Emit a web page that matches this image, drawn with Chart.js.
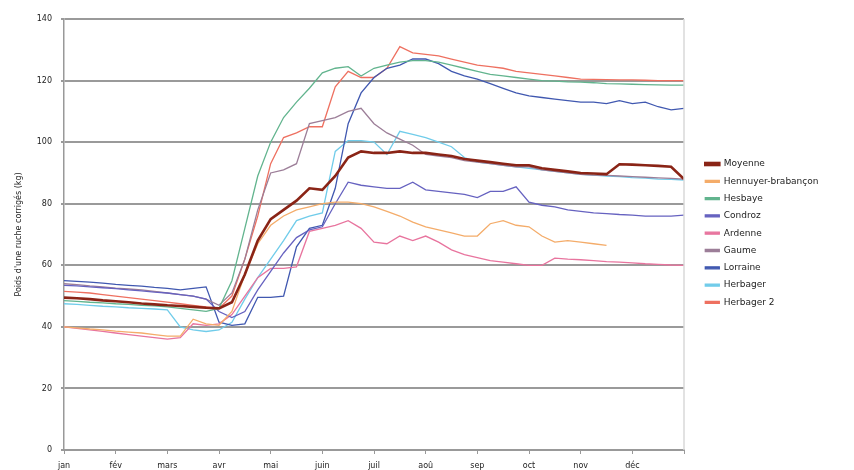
<!DOCTYPE html>
<html><head><meta charset="utf-8">
<script src="https://cdn.jsdelivr.net/npm/chart.js@4"></script>
<style>html,body{margin:0;padding:0;background:#fff;}#wrap{width:854px;height:470px;position:relative;}</style>
</head><body><div id="wrap"><canvas id="c" width="854" height="470"></canvas></div>
<script>
const monthLabels = ["jan","fév","mars","avr","mai","juin","juil","aoû","sep","oct","nov","déc",""];
const xPos = [0,0.25,0.5,0.75,1,1.25,1.5,1.75,2,2.25,2.5,2.75,3,3.25,3.5,3.75,4,4.25,4.5,4.75,5,5.25,5.5,5.75,6,6.25,6.5,6.75,7,7.25,7.5,7.75,8,8.25,8.5,8.75,9,9.25,9.5,9.75,10,10.25,10.5,10.75,11,11.25,11.5,11.75,12];
const yTicks = [0,20,40,60,80,100,120,140];
const seriesNames = ["Moyenne","Hennuyer-brabançon","Hesbaye","Condroz","Ardenne","Gaume","Lorraine","Herbager","Herbager 2"];

const moyenne = [49.5,49.3,49,48.6,48.3,48,47.6,47.3,47,46.8,46.5,46.2,46,48,57,68,75,78,81,85,84.5,89,95,97,96.5,96.5,97,96.5,96.5,96,95.5,94.5,94,93.5,93,92.5,92.5,91.5,91,90.5,90,89.8,89.6,92.8,92.7,92.5,92.3,92,88];
const hennuyer = [40,39.7,39.3,39,38.6,38.3,38,37.5,37,37,42.5,41,40.5,45,57,67,73,76,78,79,80,80.5,80.5,80,79,77.5,76,74,72.5,71.5,70.5,69.5,69.5,73.5,74.5,73,72.5,69.5,67.5,68,67.5,67,66.5,null,null,null,null,null,null];
const hesbaye = [48.5,48.3,48,47.8,47.5,47.3,47,46.8,46.5,46,45.5,45,46,55,72,89,100,108,113,117.5,122.5,124,124.5,121.5,124,125,126,126.5,126.5,126,125,124,123,122,121.5,121,120.5,120,119.8,119.6,119.5,119.3,119,118.9,118.8,118.7,118.6,118.5,118.5];
const condroz = [53.5,53.3,53,52.7,52.4,52,51.7,51.3,51,50.5,50,49,45,43,45,52,58,64,69,71.5,72.5,80,87,86,85.5,85,85,87,84.5,84,83.5,83,82,84,84,85.5,80.5,79.5,79,78,77.5,77,76.8,76.5,76.3,76,76,76,76.3];
const ardenne = [40,39.5,39,38.5,38,37.5,37,36.5,36,36.5,41,40.5,41,44,50,56,59,59,59.5,71,72,73,74.5,72,67.5,67,69.5,68,69.5,67.5,65,63.5,62.5,61.5,61,60.5,60,60,62.3,62,61.8,61.5,61.2,61,60.8,60.5,60.3,60.1,60];
const gaume = [54,53.7,53.3,53,52.6,52.3,52,51.5,51,50.5,50,49,47,51,62,78,90,91,93,106,107,108,110,111,106,103,101,99,96,95.5,95,94,93.5,93,92.5,92,92,91,90.5,90,89.5,89.3,89.2,89,88.8,88.6,88.4,88.2,88];
const lorraine = [55,54.8,54.5,54.2,53.8,53.5,53.2,52.8,52.5,52,52.5,53,41.5,40.5,41,49.6,49.6,50,66,72,73,85,106,116,121,124,125,127,127,125.5,123,121.5,120.5,119,117.5,116,115,114.5,114,113.5,113,113,112.5,113.5,112.5,113,111.5,110.5,111];
const herbager = [47.5,47.3,47,46.7,46.5,46.2,46,45.8,45.5,40,39,38.5,39,41.5,49,56,62,68,74.5,76,77,97,100.5,100.5,100,96,103.5,102.5,101.5,100,98.5,95,93.5,93,92.5,92,91.5,91,90.5,90,89.5,89.3,89,88.8,88.5,88.3,88,87.9,87.7];
const herbager2 = [51.5,51.3,51,50.5,50,49.5,49,48.5,48,47.5,47,46.5,46,50,62,76,93,101.5,103,105,105,118,123,121,121,124,131,129,128.5,128,127,126,125,124.5,124,123,122.5,122,121.5,121,120.5,120.4,120.3,120.2,120.2,120.1,120,120,120];

const seriesValues = [moyenne,hennuyer,hesbaye,condroz,ardenne,gaume,lorraine,herbager,herbager2];
const seriesColors = ["#8A2416","#F4AC6A","#62B48E","#6662C0","#E8749E","#9C7E98","#4058B0","#70CCEA","#EE7060"];
const seriesWidths = [2.6,1.3,1.3,1.3,1.3,1.3,1.3,1.3,1.3];

const datasets = seriesNames.map((name,i)=>({
  label: name,
  data: xPos.map((x,j)=>({x:x,y:seriesValues[i][j]})),
  borderColor: seriesColors[i],
  backgroundColor: seriesColors[i],
  borderWidth: seriesWidths[i],
  pointRadius: 0,
  tension: 0,
  spanGaps: false
}));

const frame = {
  id:'frame',
  afterDraw(chart){
    const a = chart.chartArea, ctx = chart.ctx;
    ctx.save();
    ctx.strokeStyle = '#d8d8d8'; ctx.lineWidth = 1.5;
    ctx.beginPath(); ctx.moveTo(a.right, a.top); ctx.lineTo(a.right, a.bottom); ctx.stroke();
    ctx.restore();
  }
};
const legendPlace = {
  id:'legendPlace',
  beforeInit(chart){
    const lg = chart.legend;
    if(!lg) return;
    const orig = lg.fit;
    lg.fit = function(){ orig.call(this); this.width = 162; };
  },
  afterLayout(chart){
    const lg = chart.legend;
    if(!lg) return;
    lg.left += 13; lg.right += 13;
  }
};

Chart.defaults.font.family = "'DejaVu Sans', Verdana, sans-serif";
Chart.defaults.color = '#222';
Chart.defaults.animation = false;

new Chart(document.getElementById('c'), {
  type:'line',
  data:{datasets:datasets},
  options:{
    responsive:false,
    animation:false,
    layout:{padding:{left:12,right:8,top:19,bottom:0}},
    plugins:{
      legend:{
        position:'right',
        align:'start',
        title:{display:true,text:'',padding:{top:131,bottom:0},font:{size:1}},
        labels:{boxWidth:14,boxHeight:2,padding:8.3,font:{size:9},color:'#222'}
      },
      tooltip:{enabled:false}
    },
    scales:{
      x:{
        type:'linear', min:0, max:12,
        afterBuildTicks(scale){ scale.ticks = monthLabels.map((l,i)=>({value:i})); },
        ticks:{ callback:(v)=>monthLabels[Math.round(v)], font:{size:8}, color:'#222', padding:7, maxRotation:0, autoSkip:false },
        grid:{ drawOnChartArea:false, drawTicks:true, tickLength:4, color:'#999', lineWidth:1 },
        border:{ color:'#999', width:2 },
        afterFit(scale){ scale.height = 20; }
      },
      y:{
        min:0, max:140,
        afterBuildTicks(scale){ scale.ticks = yTicks.map(v=>({value:v})); },
        ticks:{ font:{size:8}, color:'#222', padding:9 },
        grid:{ color:'#9a9a9a', lineWidth:2, tickLength:3 },
        border:{ color:'#999', width:1.5 },
        title:{ display:true, text:"Poids d'une ruche corrigés (kg)", font:{size:8}, color:'#222', padding:{top:2,bottom:2} },
        afterFit(scale){ scale.width = 52; }
      }
    }
  },
  plugins:[frame, legendPlace]
});
</script></body></html>
